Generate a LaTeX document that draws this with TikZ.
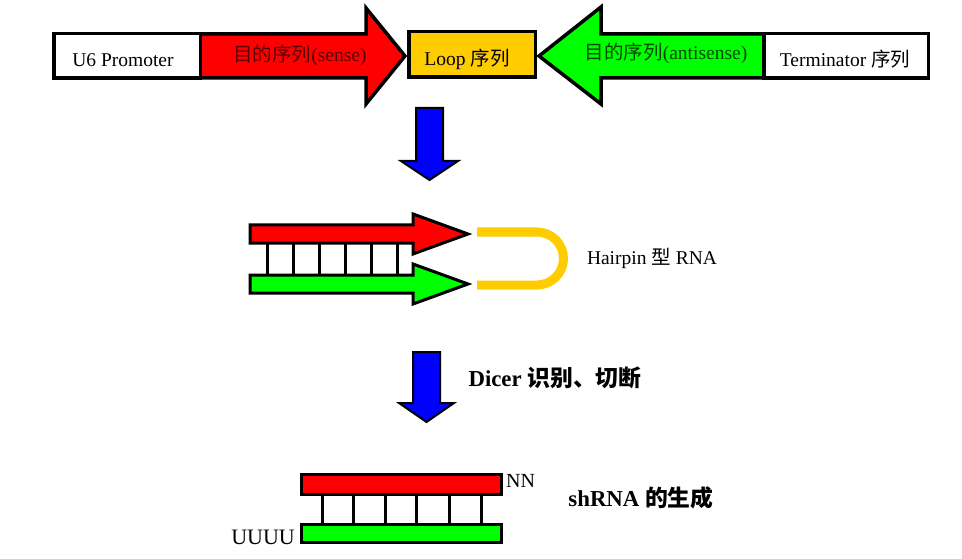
\documentclass[tikz,border=0pt]{standalone}
\usepackage{fontspec}
\setmainfont{Liberation Serif}
\newfontfamily\cjk{Noto Sans CJK SC}
\definecolor{sensered}{HTML}{FF0000}
\definecolor{antigreen}{HTML}{00FF00}
\definecolor{loopyellow}{HTML}{FFCC00}
\definecolor{dicerblue}{HTML}{0000FF}
\definecolor{sensetext}{HTML}{5A0000}
\definecolor{antitext}{HTML}{004600}
\begin{document}
\begin{tikzpicture}[x=1pt,y=-1pt,
  outline/.style={draw=black,line width=3.5pt},
  strand/.style={draw=black,line width=3pt},
  label/.style={inner sep=0pt,font=\fontsize{19.5}{20}\selectfont},
  boldlabel/.style={inner sep=0pt,font=\fontsize{22.8}{24}\selectfont\bfseries},
  rung/.style={line width=3pt},
  downarrow/.style={draw=black,line width=2pt,fill=dicerblue}]
\useasboundingbox (0,0) rectangle (962,559);

\draw[outline,fill=sensered] (200,34) -- (366,34) -- (366,8) -- (405,56) -- (366,104) -- (366,78) -- (200,78) -- cycle;
\draw[outline,fill=antigreen] (539,56) -- (601,7) -- (601,34) -- (764,34) -- (764,78) -- (601,78) -- (601,104) -- cycle;
\node[outline,fill=white,minimum width=146.5pt,minimum height=44.5pt] (promoter) at (127,56) {};
\node[outline,fill=loopyellow,minimum width=126.5pt,minimum height=45.5pt] (loop) at (472,54.5) {};
\node[outline,fill=white,minimum width=164.5pt,minimum height=44.5pt] (terminator) at (846,56) {};
\node[label] (promotertext) at (123,60) {U6 Promoter};
\node[label,text=sensetext] (sensetext) at (300,55) {{\cjk 目的序列}(sense)};
\node[label] (looptext) at (467,59) {Loop {\cjk 序列}};
\node[label,text=antitext] (antitext) at (666,53) {{\cjk 目的序列}(antisense)};
\node[label] (terminatortext) at (845,59) {Terminator {\cjk 序列}};

\draw[downarrow] (416,108) -- (443,108) -- (443,161) -- (458,161) -- (429.5,180) -- (401,161) -- (416,161) -- cycle;

\draw[strand,fill=sensered] (250,225) -- (413,225) -- (413,214) -- (468,234) -- (413,254) -- (413,243) -- (250,243) -- cycle;
\draw[strand,fill=antigreen] (250,275) -- (413,275) -- (413,264) -- (468,284) -- (413,304) -- (413,293) -- (250,293) -- cycle;
\foreach \x in {267,293,319,345,371,397}
  \draw[rung] (\x,243) -- (\x,275);
\draw[loopyellow,line width=9pt] (477,232) -- (537,232) arc[start angle=-90,end angle=90,radius=26.5] -- (477,285);
\node[label] (hairpin) at (652,258) {Hairpin {\cjk 型} RNA};

\draw[downarrow] (413,352) -- (440,352) -- (440,403) -- (454,403) -- (426.5,422) -- (399,403) -- (413,403) -- cycle;
\node[boldlabel] (dicer) at (555,378) {Dicer {\cjk 识别、切断}};

\node[strand,fill=sensered,minimum width=200pt,minimum height=20pt] (shsense) at (401.5,484.5) {};
\node[strand,fill=antigreen,minimum width=200pt,minimum height=18pt] (shanti) at (401.5,533.5) {};
\foreach \x in {322,353,385,416,449,481}
  \draw[rung] (\x,0 |- shsense.south) -- (\x,0 |- shanti.north);
\node[label,font=\fontsize{20}{20}\selectfont,anchor=west] (nn) at (506,481) {NN};
\node[label,font=\fontsize{22}{22}\selectfont,anchor=east] (uuuu) at (295,537) {UUUU};
\node[boldlabel] (shrna) at (641,498) {shRNA {\cjk 的生成}};
\end{tikzpicture}
\end{document}
